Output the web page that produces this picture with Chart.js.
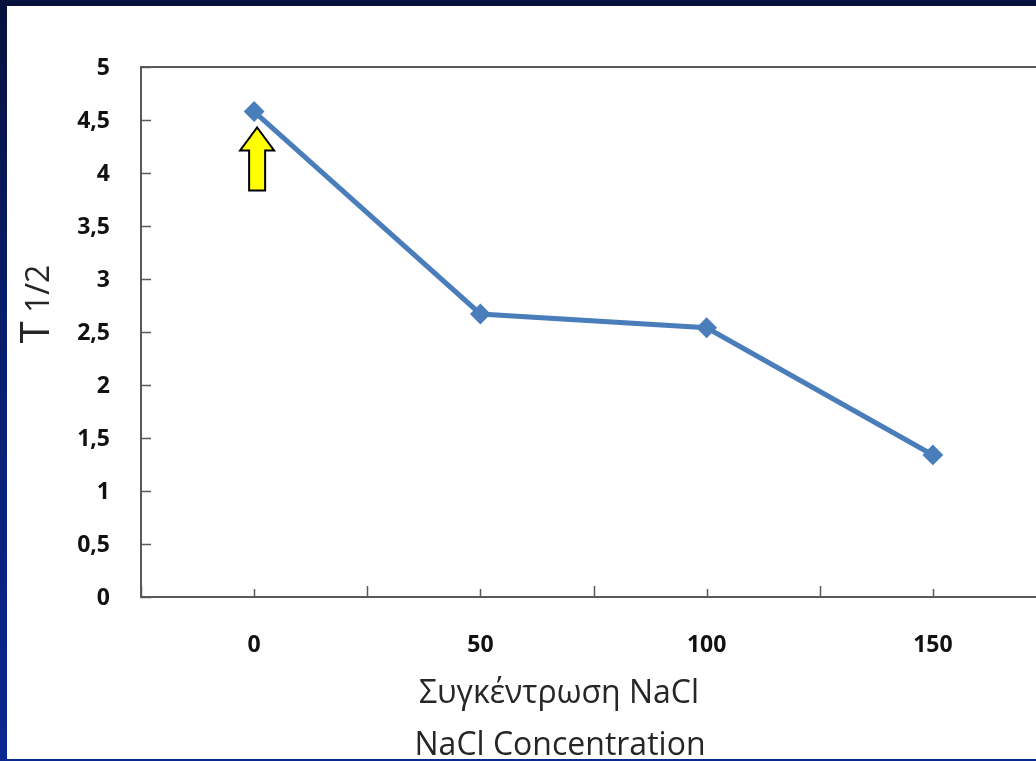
<!DOCTYPE html>
<html lang="el">
<head>
<meta charset="UTF-8">
<title>T 1/2 vs NaCl</title>
<script src="https://cdn.jsdelivr.net/npm/chart.js"></script>
<style>
    html, body {
        margin: 0;
        padding: 0;
        width: 1036px;
        height: 761px;
        overflow: hidden;
        background: linear-gradient(to bottom, #06113c 0%, #081d6a 40%, #0a2891 100%);
    }
    .panel {
        position: absolute;
        left: 7px;
        top: 6px;
        width: 1045px;
        height: 753px;
        background: #ffffff;
    }
</style>
</head>
<body>
<div class="panel">
    <canvas id="chart" width="1045" height="753"></canvas>
</div>
<script>
    // NaCl concentration and half-time values
    const concentrations = [0, 50, 100, 150];
    const halfTimes = [4.58, 2.67, 2.54, 1.34];
    const yTicks = [0, 0.5, 1, 1.5, 2, 2.5, 3, 3.5, 4, 4.5, 5];
    const xLabels = [0, 50, 100, 150];
    const xBounds = [-25, 25, 75, 125];
    const xTitle = ['Συγκέντρωση NaCl', 'NaCl Concentration'];

    const axisColor = '#595959';
    const lineColor = '#4a7ebb';

    const fmt = v => String(v).replace('.', ',');

    // axes, ticks, labels, titles and the arrow are drawn by hand
    const decor = {
        id: 'decor',
        beforeDatasetsDraw(chart) {
            const {ctx, chartArea: a, scales: {x, y}} = chart;
            ctx.save();
            ctx.strokeStyle = axisColor;
            ctx.lineWidth = 2;
            ctx.beginPath();
            ctx.moveTo(a.right, a.top);
            ctx.lineTo(a.left, a.top);
            ctx.lineTo(a.left, a.bottom);
            ctx.lineTo(a.right, a.bottom);
            ctx.stroke();

            ctx.lineWidth = 1.5;
            yTicks.forEach(v => {
                const py = Math.round(y.getPixelForValue(v)) + 0.5;
                ctx.beginPath();
                ctx.moveTo(a.left, py);
                ctx.lineTo(a.left + 10, py);
                ctx.stroke();
            });
            xLabels.forEach(v => {
                const px = Math.round(x.getPixelForValue(v)) + 0.5;
                ctx.beginPath();
                ctx.moveTo(px, a.bottom);
                ctx.lineTo(px, a.bottom - 8);
                ctx.stroke();
            });
            xBounds.forEach(v => {
                const px = Math.round(x.getPixelForValue(v)) + 0.5;
                ctx.beginPath();
                ctx.moveTo(px, a.bottom);
                ctx.lineTo(px, a.bottom - 11);
                ctx.stroke();
            });

            ctx.fillStyle = '#111111';
            ctx.font = 'bold 23px "Open Sans", sans-serif';
            ctx.textAlign = 'right';
            ctx.textBaseline = 'middle';
            yTicks.forEach(v => {
                ctx.fillText(fmt(v), a.left - 31, y.getPixelForValue(v) + 1, 37);
            });
            ctx.textAlign = 'center';
            xLabels.forEach(v => {
                ctx.fillText(fmt(v), x.getPixelForValue(v), a.bottom + 48, 52);
            });

            ctx.fillStyle = '#262626';
            ctx.font = '32px "Open Sans", sans-serif';
            ctx.textBaseline = 'alphabetic';
            ctx.fillText(xTitle[0], 552, a.bottom + 106, 298);
            ctx.fillText(xTitle[1], 553, a.bottom + 158, 305);

            // rotated y title with small "1/2"
            ctx.save();
            ctx.translate(42, 298);
            ctx.rotate(-Math.PI / 2);
            ctx.textAlign = 'left';
            ctx.font = '40px "Open Sans", sans-serif';
            const tW = ctx.measureText('T').width;
            ctx.font = '32px "Open Sans", sans-serif';
            const sW = ctx.measureText(' 1/2').width;
            const start = -(tW + sW) / 2;
            ctx.font = '40px "Open Sans", sans-serif';
            ctx.fillText('T', start, 0);
            ctx.font = '32px "Open Sans", sans-serif';
            ctx.fillText(' 1/2', start + tW, 0);
            ctx.restore();
            ctx.restore();
        },
        afterDatasetsDraw(chart) {
            const {ctx, scales: {x, y}} = chart;
            const cx = x.getPixelForValue(concentrations[0]) + 3;
            const tip = y.getPixelForValue(halfTimes[0]) + 16;
            ctx.save();
            ctx.fillStyle = '#ffff00';
            ctx.strokeStyle = '#000000';
            ctx.lineWidth = 2;
            ctx.lineJoin = 'miter';
            ctx.beginPath();
            ctx.moveTo(cx, tip);
            ctx.lineTo(cx + 17, tip + 23);
            ctx.lineTo(cx + 8, tip + 23);
            ctx.lineTo(cx + 8, tip + 63);
            ctx.lineTo(cx - 8, tip + 63);
            ctx.lineTo(cx - 8, tip + 23);
            ctx.lineTo(cx - 17, tip + 23);
            ctx.closePath();
            ctx.fill();
            ctx.stroke();
            ctx.restore();
        }
    };

    new Chart(document.getElementById('chart'), {
        type: 'line',
        data: {
            datasets: [{
                data: concentrations.map((c, i) => ({x: c, y: halfTimes[i]})),
                borderColor: lineColor,
                backgroundColor: lineColor,
                borderWidth: 5,
                pointStyle: 'rectRot',
                pointRadius: 9,
                pointBorderWidth: 2,
                pointBorderColor: lineColor,
                tension: 0
            }]
        },
        options: {
            responsive: false,
            animation: false,
            layout: {autoPadding: false, padding: {left: 134, top: 61, right: 6, bottom: 162}},
            plugins: {legend: {display: false}, tooltip: {enabled: false}},
            scales: {
                x: {
                    type: 'linear', min: -25, max: 175,
                    grid: {display: false, drawTicks: false},
                    border: {display: false},
                    ticks: {display: false}
                },
                y: {
                    min: 0, max: 5,
                    grid: {display: false, drawTicks: false},
                    border: {display: false},
                    ticks: {display: false}
                }
            }
        },
        plugins: [decor]
    });
</script>
</body>
</html>
